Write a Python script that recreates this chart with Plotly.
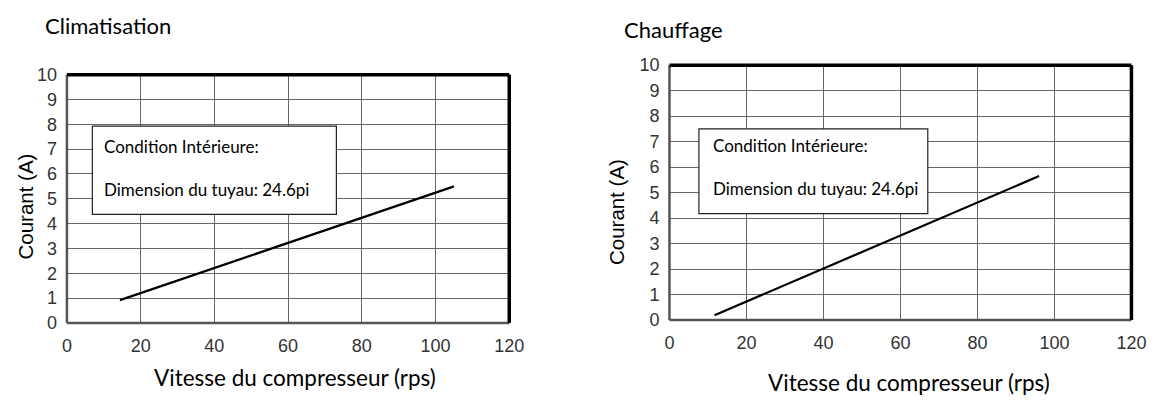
import plotly.graph_objects as go

# ---- data ----
speed_cool = [14.4, 105]
current_cool = [0.92, 5.5]
speed_heat = [11.7, 96]
current_heat = [0.19, 5.65]
x_ticks = [0, 20, 40, 60, 80, 100, 120]
y_ticks = [0, 1, 2, 3, 4, 5, 6, 7, 8, 9, 10]
titles = ["Climatisation", "Chauffage"]
x_title = "Vitesse du compresseur (rps)"
y_title = "Courant (A)"
box_lines = ["Condition Intérieure:", "Dimension du tuyau: 24.6pi"]

W, H = 1172, 410
fig = go.Figure()
fig.add_trace(go.Scatter(x=speed_cool, y=current_cool, mode="lines",
                         line=dict(color="black", width=2.2), xaxis="x", yaxis="y",
                         showlegend=False, hoverinfo="skip"))
fig.add_trace(go.Scatter(x=speed_heat, y=current_heat, mode="lines",
                         line=dict(color="black", width=2.2), xaxis="x2", yaxis="y2",
                         showlegend=False, hoverinfo="skip"))

tickfont = dict(family="Liberation Sans, Arial", size=18, color="#333333")
common_x = dict(range=[0, 120], tickvals=x_ticks, showgrid=True, gridcolor="#666666",
                gridwidth=1.3, zeroline=False, showline=False, tickfont=tickfont,
                ticks="", ticklabelstandoff=10, fixedrange=True)
common_y = dict(range=[0, 10], tickvals=y_ticks, showgrid=True, gridcolor="#666666",
                gridwidth=1.3, zeroline=False, showline=False, tickfont=tickfont,
                ticks="", ticklabelstandoff=9, fixedrange=True)

dom = {
    "left": dict(x=[63 / W, 513 / W], y=[(H - 329) / H, (H - 68) / H]),
    "right": dict(x=[676 / W, 1146 / W], y=[(H - 326) / H, (H - 58) / H]),
}

fig.update_layout(
    width=W, height=H, margin=dict(l=0, r=0, t=0, b=0),
    paper_bgcolor="white", plot_bgcolor="white",
    xaxis=dict(domain=dom["left"]["x"], anchor="y", **common_x),
    yaxis=dict(domain=dom["left"]["y"], anchor="x", **common_y),
    xaxis2=dict(domain=dom["right"]["x"], anchor="y2", **common_x),
    yaxis2=dict(domain=dom["right"]["y"], anchor="x2", **common_y),
)

shapes = []
annotations = []
boxes = {"x": (6.9, 73.1, 4.37, 7.93), "x2": (7.65, 67.1, 4.18, 7.5)}
for xr, yr in [("x", "y"), ("x2", "y2")]:
    xd, yd = xr + " domain", yr + " domain"
    # frame
    shapes.append(dict(type="line", xref=xd, yref=yd, x0=0, x1=0, y0=0, y1=1,
                       line=dict(color="#555555", width=2.5)))
    shapes.append(dict(type="line", xref=xd, yref=yd, x0=0, x1=1, y0=0, y1=0,
                       line=dict(color="#555555", width=2.5)))
    shapes.append(dict(type="line", xref=xd, yref=yd, x0=0, x1=1, y0=1, y1=1,
                       line=dict(color="black", width=3.5)))
    shapes.append(dict(type="line", xref=xd, yref=yd, x0=1, x1=1, y0=0, y1=1,
                       line=dict(color="black", width=3.5)))
    bx0, bx1, by0, by1 = boxes[xr]
    shapes.append(dict(type="rect", xref=xr, yref=yr, x0=bx0, x1=bx1, y0=by0, y1=by1,
                       fillcolor="white", line=dict(color="#222222", width=1.2),
                       layer="above"))

txtfont = dict(family="Lato", size=17, color="black")
# box texts (pixel positions)
for (xpx, y1px, y2px) in [(99, 143, 189), (718, 142, 188)]:
    annotations.append(dict(text=box_lines[0], xref="paper", yref="paper",
                            x=xpx / W, y=(H - y1px) / H, xanchor="left", yanchor="middle",
                            showarrow=False, font=txtfont))
    annotations.append(dict(text=box_lines[1], xref="paper", yref="paper",
                            x=xpx / W, y=(H - y2px) / H, xanchor="left", yanchor="middle",
                            showarrow=False, font=txtfont))

# chart titles
for t, xpx, ypx in [(titles[0], 39, 16), (titles[1], 628, 20)]:
    annotations.append(dict(text=t, xref="paper", yref="paper", x=xpx / W, y=(H - ypx) / H,
                            xanchor="left", yanchor="middle", showarrow=False,
                            font=dict(family="Lato", size=22, color="black")))
# x titles
for xpx, ypx in [(295, 386), (920, 392)]:
    annotations.append(dict(text=x_title, xref="paper", yref="paper", x=xpx / W, y=(H - ypx) / H,
                            xanchor="center", yanchor="middle", showarrow=False,
                            font=dict(family="Lato", size=22.5, color="black")))
# y titles
for xpx, ypx in [(21, 207), (622, 212)]:
    annotations.append(dict(text=y_title, xref="paper", yref="paper", x=xpx / W, y=(H - ypx) / H,
                            xanchor="center", yanchor="middle", showarrow=False, textangle=-90,
                            font=dict(family="Liberation Sans, Arial", size=20.5, color="black")))

fig.update_layout(shapes=shapes, annotations=annotations)
fig.write_html("out.html", config={"displayModeBar": False},
               post_script="document.body.style.margin='0';document.body.style.overflow='hidden';")
